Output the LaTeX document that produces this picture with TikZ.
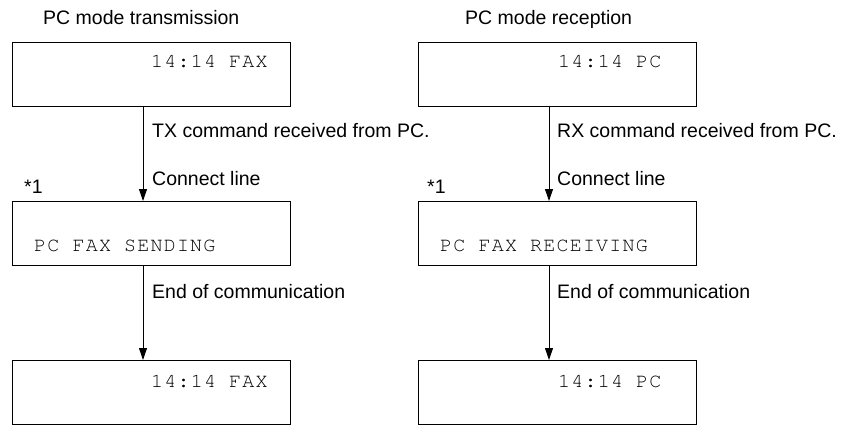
\documentclass[tikz,border=0pt]{standalone}
\usepackage{fontspec}
\setmainfont{Liberation Sans}
\newfontfamily\lcd{texgyrecursor-regular.otf}[LetterSpace=6]
\usetikzlibrary{arrows.meta}
\begin{document}
\begin{tikzpicture}[x=1pt,y=-1pt,
  lcdbox/.style={draw,line width=1.2pt,minimum width=278pt,minimum height=64pt,inner sep=0pt,anchor=north west},
  lbl/.style={anchor=base west,inner sep=0pt,font=\fontsize{19.5}{22}\selectfont},
  lcdtxt/.style={anchor=base west,inner sep=0pt,font=\lcd\fontsize{20}{22}\selectfont},
  arr/.style={line width=0.9pt,-{Triangle[length=12pt,width=8pt]}}]
\useasboundingbox (0,0) rectangle (848,425);
% left column
\node[lbl] (h1) at (43,25) {PC mode transmission};
\node[lcdbox] (t1) at (12,42) {};
\node[lcdbox] (m1) at (12,201) {};
\node[lcdbox] (b1) at (12,360) {};
\node[lcdtxt] (t1x) at (151,68) {14:14 FAX};
\node[lcdtxt] (m1x) at (34,251) {PC FAX SENDING};
\node[lcdtxt] (b1x) at (151,387) {14:14 FAX};
\coordinate (ax1) at (143,0);
\draw[arr] (t1.south -| ax1) -- (m1.north -| ax1);
\draw[arr] (m1.south -| ax1) -- (b1.north -| ax1);
\node[lbl] (c1) at (152,137) {TX command received from PC.};
\node[lbl] (d1) at (152,185) {Connect line};
\node[lbl] (s1) at (24,193) {*1};
\node[lbl] (e1) at (152,298) {End of communication};
% right column
\node[lbl] (h2) at (465,25) {PC mode reception};
\node[lcdbox] (t2) at (418,42) {};
\node[lcdbox] (m2) at (418,201) {};
\node[lcdbox] (b2) at (418,360) {};
\node[lcdtxt] (t2x) at (558,68) {14:14 PC};
\node[lcdtxt] (m2x) at (440,251) {PC FAX RECEIVING};
\node[lcdtxt] (b2x) at (558,387) {14:14 PC};
\coordinate (ax2) at (549,0);
\draw[arr] (t2.south -| ax2) -- (m2.north -| ax2);
\draw[arr] (m2.south -| ax2) -- (b2.north -| ax2);
\node[lbl] (c2) at (557,137) {RX command received from PC.};
\node[lbl] (d2) at (557,185) {Connect line};
\node[lbl] (s2) at (427,193) {*1};
\node[lbl] (e2) at (557,298) {End of communication};
\end{tikzpicture}
\end{document}
